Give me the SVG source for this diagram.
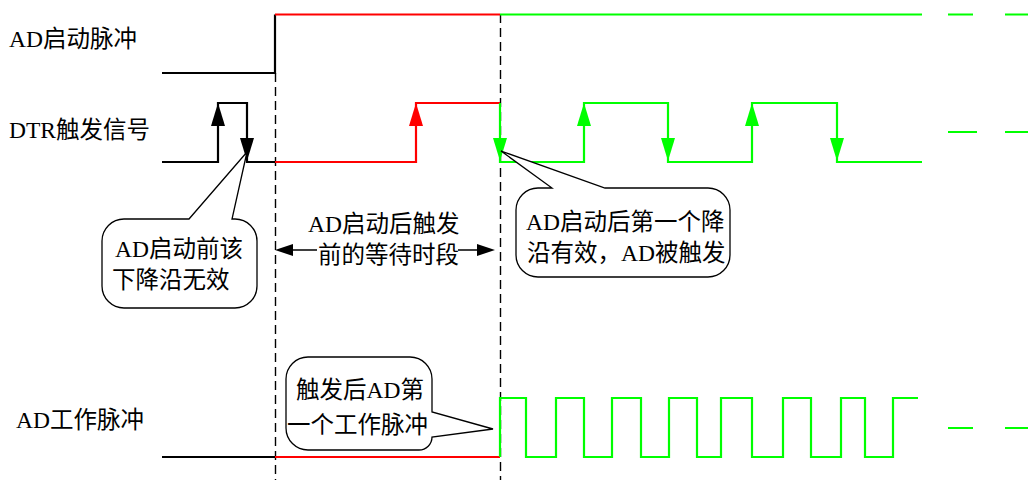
<svg xmlns="http://www.w3.org/2000/svg" xmlns:xlink="http://www.w3.org/1999/xlink" width="1028" height="483" viewBox="0 0 1028 483">
<style>
text{font-family:"Liberation Serif","Noto Sans CJK SC",serif;font-size:23.5px;fill:#000}
.sig{fill:none;stroke-width:2.2;stroke-linejoin:miter}
.k{stroke:#000}.r{stroke:#ff0000}.g{stroke:#00ff00}
.dash{fill:none;stroke:#000;stroke-width:1.4;stroke-dasharray:9,5}
.call{fill:#fff;stroke:#000;stroke-width:1.3}
.ptr{stroke:#000;stroke-width:1.3}
</style>
<defs>
<path id="up" d="M0,0 L-7,23 L7,23 Z"/>
<path id="dn" d="M0,0 L-7,-23 L7,-23 Z"/>
<path id="lft" d="M0,0 L18,-6 L18,6 Z"/>
<path id="rgt" d="M0,0 L-18,-6 L-18,6 Z"/>
</defs>
<rect width="1028" height="483" fill="#fff"/>

<g id="labels">
<text x="9" y="47">AD启动脉冲</text>
<text x="9" y="138">DTR触发信号</text>
<text x="16" y="428">AD工作脉冲</text>
</g>

<g id="guides">
<line class="dash" x1="275.5" y1="73" x2="275.5" y2="480"/>
<line class="dash" x1="500.5" y1="14" x2="500.5" y2="480"/>
</g>

<g id="ad-start">
<path class="sig k" d="M162,73 H275 V14.5"/>
<path class="sig r" d="M275,14.5 H500"/>
<path class="sig g" d="M500,14.5 H922 M948,14.5 H973 M1005,14.5 H1028"/>
</g>

<g id="dtr-trigger">
<path class="sig k" d="M162,162 H218 V103 H247 V162 H275"/>
<path class="sig r" d="M275,162 H416 V103 H500"/>
<path class="sig g" d="M500,103 V162 H584 V103 H668 V162 H752 V103 H837 V162 H922 M948,132 H977 M1005,132 H1028"/>
<use xlink:href="#up" x="218" y="103" fill="#000"/>
<use xlink:href="#dn" x="247" y="161" fill="#000"/>
<use xlink:href="#up" x="416" y="103" fill="#ff0000"/>
<use xlink:href="#dn" x="500" y="161" fill="#00ff00"/>
<use xlink:href="#up" x="584" y="103" fill="#00ff00"/>
<use xlink:href="#dn" x="668" y="161" fill="#00ff00"/>
<use xlink:href="#up" x="752" y="103" fill="#00ff00"/>
<use xlink:href="#dn" x="837" y="161" fill="#00ff00"/>
</g>

<g id="ad-work">
<path class="sig k" d="M162,457 H275"/>
<path class="sig r" d="M275,457 H500"/>
<path class="sig g" d="M500,457 V398 H526 V457 H556 V398 H584 V457 H612 V398 H641 V457 H669 V398 H697 V457 H721 V398 H752 V457 H783 V398 H811 V457 H841 V398 H865 V457 H893 V398 H918 M948,428 H973 M1005,428 H1028"/>
</g>

<g id="wait-span">
<path class="ptr" d="M293,250 H317 M458,250 H477"/>
<use xlink:href="#lft" x="275" y="250" fill="#000"/>
<use xlink:href="#rgt" x="495" y="250" fill="#000"/>
<text x="308" y="232">AD启动后触发</text>
<text x="318" y="263">前的等待时段</text>
</g>

<g id="callout-before">
<path class="call" d="M124,219 H189 L247,152 L232,219 H235 A22,22 0 0 1 257,241 V286 A22,22 0 0 1 235,308 H124 A22,22 0 0 1 102,286 V241 A22,22 0 0 1 124,219 Z"/>
<text x="115" y="257">AD启动前该</text>
<text x="112" y="288">下降沿无效</text>
</g>

<g id="callout-after">
<path class="call" d="M538,188 H552 L501,151 L605,188 H708 A22,22 0 0 1 730,210 V255 A22,22 0 0 1 708,277 H538 A22,22 0 0 1 516,255 V210 A22,22 0 0 1 538,188 Z"/>
<text x="526" y="230">AD启动后第一个降</text>
<text x="527" y="261">沿有效，AD被触发</text>
</g>

<g id="callout-first">
<path class="call" d="M308,357 H410 A22,22 0 0 1 432,379 V412 L493,429 L432,437 A13,13 0 0 1 419,450 H308 A22,22 0 0 1 286,428 V379 A22,22 0 0 1 308,357 Z"/>
<text x="296" y="398">触发后AD第</text>
<text x="287" y="433">一个工作脉冲</text>
</g>
</svg>
